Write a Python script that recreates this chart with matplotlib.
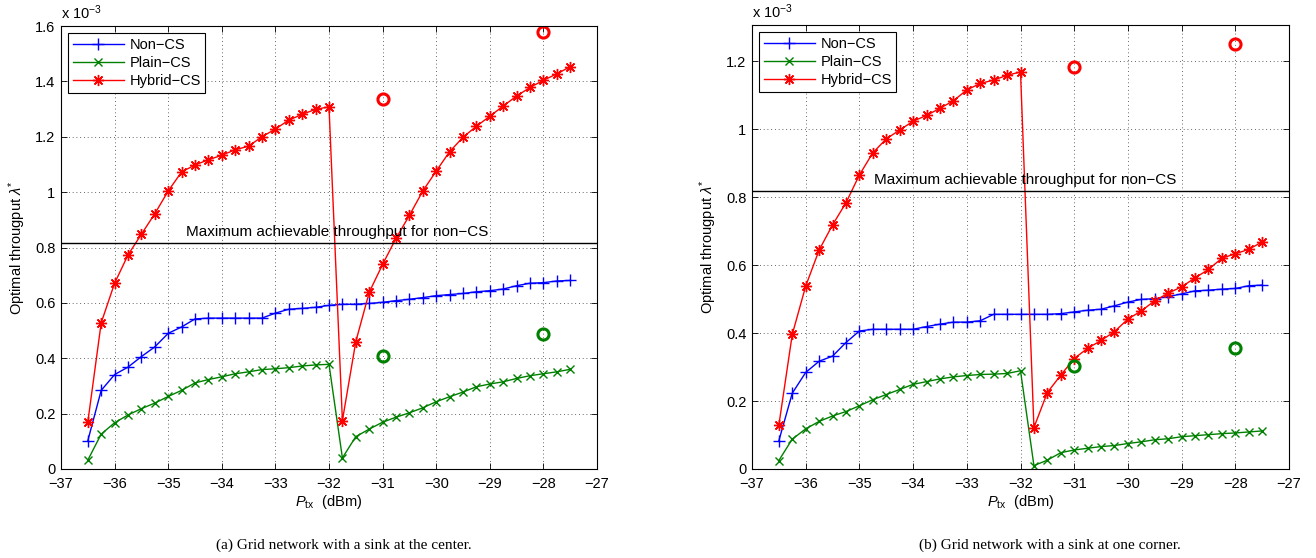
import numpy as np
import matplotlib
matplotlib.use("Agg")
import matplotlib.pyplot as plt

plt.rcParams['font.family'] = ['Liberation Sans', 'DejaVu Sans']
plt.rcParams['mathtext.fontset'] = 'custom'
plt.rcParams['mathtext.rm'] = 'Liberation Sans'
plt.rcParams['mathtext.it'] = 'Liberation Sans:italic'

# x values (dBm)
ptx_low = [-36.5, -36.25, -36.0, -35.75, -35.5, -35.25, -35.0, -34.75, -34.5, -34.25,
           -34.0, -33.75, -33.5, -33.25, -33.0, -32.75, -32.5, -32.25, -32.0]
ptx_high = [-31.75, -31.5, -31.25, -31.0, -30.75, -30.5, -30.25, -30.0, -29.75, -29.5,
            -29.25, -29.0, -28.75, -28.5, -28.25, -28.0, -27.75, -27.5]
ptx = ptx_low + ptx_high

# (a) sink at the center, values in units of 1e-3
a_non_cs = [0.102, 0.284, 0.341, 0.368, 0.406, 0.441, 0.490, 0.513, 0.542, 0.545,
            0.545, 0.545, 0.545, 0.545, 0.563, 0.577, 0.580, 0.584, 0.591,
            0.595, 0.595, 0.598, 0.602, 0.608, 0.613, 0.619, 0.626, 0.630, 0.634,
            0.640, 0.644, 0.650, 0.662, 0.671, 0.673, 0.679, 0.681]
a_plain_cs = [0.032, 0.126, 0.167, 0.195, 0.218, 0.238, 0.262, 0.284, 0.311, 0.323,
              0.333, 0.344, 0.351, 0.359, 0.362, 0.366, 0.372, 0.376, 0.378,
              0.040, 0.117, 0.144, 0.169, 0.187, 0.203, 0.221, 0.243, 0.261, 0.278,
              0.297, 0.307, 0.315, 0.327, 0.337, 0.344, 0.351, 0.360]
a_hybrid_cs = [0.169, 0.528, 0.671, 0.773, 0.848, 0.922, 1.004, 1.073, 1.098, 1.117,
               1.133, 1.153, 1.166, 1.200, 1.228, 1.260, 1.281, 1.299, 1.308,
               0.175, 0.460, 0.638, 0.739, 0.833, 0.916, 1.004, 1.076, 1.146, 1.198,
               1.238, 1.274, 1.311, 1.347, 1.378, 1.404, 1.427, 1.453]
a_circle_x = [-31.0, -28.0]
a_circle_red = [1.335, 1.577]
a_circle_green = [0.408, 0.486]
a_max_noncs = 0.817

# (b) sink at one corner, values in units of 1e-3
b_non_cs = [0.083, 0.223, 0.284, 0.317, 0.332, 0.372, 0.406, 0.411, 0.411, 0.411,
            0.411, 0.419, 0.426, 0.432, 0.432, 0.436, 0.455, 0.455, 0.455,
            0.455, 0.455, 0.457, 0.462, 0.467, 0.470, 0.480, 0.491, 0.499, 0.501,
            0.507, 0.515, 0.524, 0.526, 0.529, 0.531, 0.539, 0.541]
b_plain_cs = [0.025, 0.088, 0.118, 0.140, 0.156, 0.169, 0.186, 0.204, 0.219, 0.234,
              0.249, 0.257, 0.265, 0.271, 0.275, 0.278, 0.279, 0.281, 0.289,
              0.010, 0.026, 0.048, 0.056, 0.061, 0.066, 0.069, 0.075, 0.080, 0.086,
              0.089, 0.095, 0.098, 0.101, 0.104, 0.106, 0.109, 0.112]
b_hybrid_cs = [0.129, 0.396, 0.538, 0.644, 0.718, 0.783, 0.865, 0.930, 0.971, 0.997,
               1.023, 1.040, 1.061, 1.083, 1.115, 1.134, 1.144, 1.158, 1.168,
               0.122, 0.225, 0.276, 0.325, 0.355, 0.378, 0.404, 0.441, 0.465, 0.495,
               0.517, 0.536, 0.562, 0.587, 0.620, 0.633, 0.646, 0.668]
b_circle_x = [-31.0, -28.0]
b_circle_red = [1.183, 1.249]
b_circle_green = [0.304, 0.356]
b_max_noncs = 0.818

xticks = [-37, -36, -35, -34, -33, -32, -31, -30, -29, -28, -27]
a_yticks = [0, 0.2, 0.4, 0.6, 0.8, 1.0, 1.2, 1.4, 1.6]
b_yticks = [0, 0.2, 0.4, 0.6, 0.8, 1.0, 1.2]

series_names = ['Non\u2212CS', 'Plain\u2212CS', 'Hybrid\u2212CS']
captions = ['(a) Grid network with a sink at the center.',
            '(b) Grid network with a sink at one corner.']

BLUE = (0, 0, 1)
GREEN = (0, 0.5, 0)
RED = (1, 0, 0)
ASTERISK = (8, 2, 0)
FS = 10.5

W, H = 1316, 558
fig = plt.figure(figsize=(W / 100, H / 100), dpi=100)
ax_a = fig.add_axes([61 / W, 89 / H, 536 / W, 443 / H])
ax_b = fig.add_axes([752 / W, 89 / H, 537 / W, 444 / H])


def fmt(v):
    s = ('%.1f' % v)
    if s.endswith('.0'):
        s = s[:-2]
    return s


def draw(ax, non, plain, hybrid, cx, cred, cgreen, maxv, yticks, ylim, text_x):
    ax.plot(ptx, non, color=BLUE, lw=1.0, marker='+', ms=8, mew=1.0, label=series_names[0])
    ax.plot(ptx, plain, color=GREEN, lw=1.0, marker='x', ms=5.5, mew=1.0, label=series_names[1])
    ax.plot(ptx, hybrid, color=RED, lw=1.0, marker=ASTERISK, ms=8, mew=1.0, label=series_names[2])
    ax.plot(cx, cred, ls='none', marker='o', ms=8, mfc='none', mec=RED, mew=2.2)
    ax.plot(cx, cgreen, ls='none', marker='o', ms=8, mfc='none', mec=GREEN, mew=2.2)
    ax.axhline(maxv, color='black', lw=1.0)
    ax.text(text_x, maxv + 0.012, 'Maximum achievable throughput for non\u2212CS',
            fontsize=11, ha='left', va='bottom')
    ax.set_xlim(-37, -27)
    ax.set_ylim(*ylim)
    ax.set_xticks(xticks)
    ax.set_xticklabels(['\u2212%d' % abs(t) for t in xticks])
    ax.set_yticks(yticks)
    ax.set_yticklabels([fmt(t) for t in yticks])
    ax.tick_params(direction='in', top=True, right=True, labelsize=FS, length=4, width=0.6)
    ax.tick_params(axis='x', pad=6)
    ax.tick_params(axis='y', pad=4)
    ax.grid(True, color='black', ls=(0, (1, 3.5)), lw=0.6, alpha=0.8)
    for sp in ax.spines.values():
        sp.set_linewidth(0.8)
    ax.set_xlabel(r'$P_{\mathrm{tx}}$  (dBm)', fontsize=FS, labelpad=1)
    ax.set_ylabel('Optimal througput $\\lambda^{*}$', fontsize=FS, labelpad=5)
    ax.text(0, 1.008, 'x 10$^{-3}$', transform=ax.transAxes, fontsize=FS, ha='left', va='bottom')
    leg = ax.legend(loc='upper left', fontsize=FS, fancybox=False, framealpha=1,
                    edgecolor='black', borderpad=0.3, labelspacing=0.3,
                    handlelength=3.5, handletextpad=0.4, borderaxespad=0.5)
    leg.get_frame().set_linewidth(0.8)


draw(ax_a, a_non_cs, a_plain_cs, a_hybrid_cs, a_circle_x, a_circle_red, a_circle_green,
     a_max_noncs, a_yticks, (0, 1.6), -34.67)
draw(ax_b, b_non_cs, b_plain_cs, b_hybrid_cs, b_circle_x, b_circle_red, b_circle_green,
     b_max_noncs, b_yticks, (0, 1.306), -34.72)

fig.text(344 / W, 1 - 545 / H, captions[0], fontsize=11, family='Liberation Serif',
         ha='center', va='center')
fig.text(1050 / W, 1 - 545 / H, captions[1], fontsize=11, family='Liberation Serif',
         ha='center', va='center')

fig.savefig('out.png', dpi=100)
